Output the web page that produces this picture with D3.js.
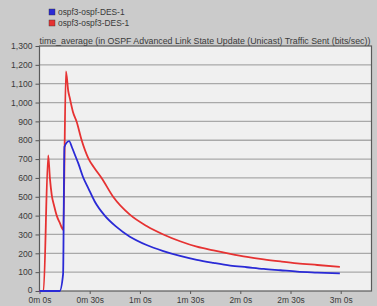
<!DOCTYPE html>
<html>
<head>
<meta charset="utf-8">
<script src="https://cdn.jsdelivr.net/npm/d3@7"></script>
<style>
  html, body { margin: 0; padding: 0; background: #cbcbcb; }
  svg { display: block; font-family: "Liberation Sans", Arial, sans-serif; }
</style>
</head>
<body>
<div id="chart"></div>
<script>
// series names as shown in the legend
const seriesNames = ["ospf3-ospf-DES-1", "ospf3-ospf3-DES-1"];
const seriesColors = ["#2a2ad6", "#e63232"];

// blue series: ospf3-ospf-DES-1 (time in seconds, bits/sec)
const blueTimes = [0, 12, 14.1, 14.9, 17.7, 19.5, 21.5, 23.2, 26, 29.2, 33, 39, 46, 54, 64, 74, 84, 94, 104, 114, 124, 134, 144, 154, 166, 179.5];
const blueValues = [0, 0, 90, 765, 795, 760, 715, 677, 605, 545, 475, 400, 340, 288, 244, 212, 186, 165, 149, 135, 126, 117, 110, 103, 98, 93];

// red series: ospf3-ospf3-DES-1
const redTimes = [0, 2.4, 5.2, 6.2, 7.3, 8.8, 10.3, 12.2, 14.2, 15.8, 17.2, 18.2, 20, 22.2, 25.2, 29.2, 33, 37.2, 44, 54, 64, 74, 84, 94, 104, 114, 124, 134, 144, 154, 166, 179.5];
const redValues = [0, 0, 720, 600, 510, 450, 400, 360, 325, 1165, 1060, 1020, 950, 898, 800, 704, 650, 598, 500, 405, 345, 300, 264, 235, 215, 197, 181, 168, 157, 147, 138, 128];

// axis ticks
const yTicks = [0, 100, 200, 300, 400, 500, 600, 700, 800, 900, 1000, 1100, 1200, 1300];
const xTicks = [0, 30, 60, 90, 120, 150, 180];
const xTickLabels = ["0m 0s", "0m 30s", "1m 0s", "1m 30s", "2m 0s", "2m 30s", "3m 0s"];

const titleText = "time_average (in OSPF Advanced Link State Update (Unicast) Traffic Sent (bits/sec))";

const width = 377;
const height = 306;
const plot = { left: 39.5, right: 371.5, top: 46, bottom: 291 };

const svg = d3.select("#chart").append("svg").attr("width", width).attr("height", height);

svg.append("rect").attr("width", width).attr("height", height).attr("fill", "#cbcbcb");

const x = d3.scaleLinear().domain([0, 198.4]).range([plot.left, plot.right]);
const y = d3.scaleLinear().domain([0, 1300]).range([plot.bottom, plot.top]);

// plot background
svg.append("rect")
  .attr("x", plot.left)
  .attr("y", plot.top)
  .attr("width", plot.right - plot.left)
  .attr("height", plot.bottom - plot.top)
  .attr("fill", "#f0f0f0");

// horizontal grid lines
svg.append("g")
  .selectAll("line")
  .data(yTicks.filter((d) => d > 0 && d < 1300))
  .enter()
  .append("line")
  .attr("x1", plot.left)
  .attr("x2", plot.right)
  .attr("y1", (d) => y(d))
  .attr("y2", (d) => y(d))
  .attr("stroke", "#a9a9a9")
  .attr("stroke-width", 1.3);

// y axis
const yAxis = svg.append("g")
  .attr("transform", `translate(${plot.left},0)`)
  .call(d3.axisLeft(y).tickValues(yTicks).tickSize(4).tickPadding(3).tickFormat(d3.format(",")));
yAxis.select(".domain").remove();
yAxis.selectAll("line").attr("stroke", "#555");
yAxis.selectAll("text").attr("fill", "#3a3a3a").attr("font-size", "8.6px").attr("font-family", "Liberation Sans, Arial, sans-serif");
// the zero label sits a touch higher so it clears the time labels
yAxis.selectAll(".tick").filter((d) => d === 0).select("text").attr("dy", "0.2em");

// x axis
const xAxis = svg.append("g")
  .attr("transform", `translate(0,${plot.bottom})`)
  .call(d3.axisBottom(x).tickValues(xTicks).tickSize(3).tickPadding(3).tickFormat((d, i) => xTickLabels[i]));
xAxis.select(".domain").remove();
xAxis.selectAll("line").attr("stroke", "#555");
xAxis.selectAll("text").attr("fill", "#3a3a3a").attr("font-size", "8.4px").attr("font-family", "Liberation Sans, Arial, sans-serif");

// plot border
svg.append("rect")
  .attr("x", plot.left)
  .attr("y", plot.top)
  .attr("width", plot.right - plot.left)
  .attr("height", plot.bottom - plot.top)
  .attr("fill", "none")
  .attr("stroke", "#5a5a5a")
  .attr("stroke-width", 1.2);

// lines
const line = d3.line().x((d) => x(d[0])).y((d) => y(d[1])).curve(d3.curveMonotoneX);
const seriesData = [
  d3.zip(blueTimes, blueValues),
  d3.zip(redTimes, redValues)
];

// red drawn first so the blue sits on top where they overlap
[1, 0].forEach((i) => {
  svg.append("path")
    .datum(seriesData[i])
    .attr("d", line)
    .attr("fill", "none")
    .attr("stroke", seriesColors[i])
    .attr("stroke-width", 1.8)
    .attr("stroke-linejoin", "round");
});

// title
svg.append("text")
  .attr("x", plot.left)
  .attr("y", plot.top - 2)
  .attr("font-size", "8.8px")
  .attr("fill", "#3a3a3a")
  .text(titleText);

// legend
const legend = svg.append("g").attr("transform", "translate(49,9)");
seriesNames.forEach((name, i) => {
  legend.append("rect")
    .attr("x", 0)
    .attr("y", i * 11)
    .attr("width", 6)
    .attr("height", 6)
    .attr("fill", seriesColors[i])
    .attr("stroke", "#333")
    .attr("stroke-width", 0.4);
  legend.append("text")
    .attr("x", 9)
    .attr("y", i * 11 + 6)
    .attr("font-size", "8.4px")
    .attr("fill", "#3a3a3a")
    .text(name);
});
</script>
</body>
</html>
